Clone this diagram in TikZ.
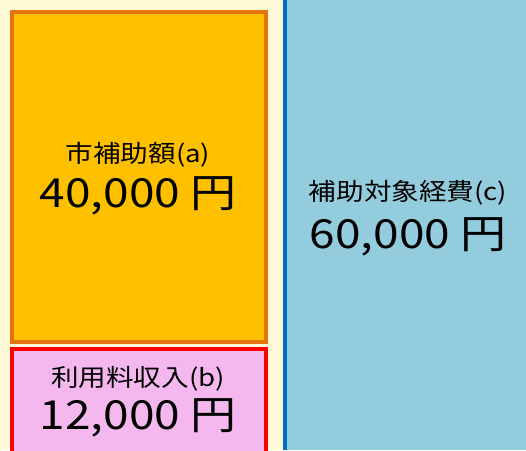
\documentclass[tikz,border=0pt]{standalone}
\usepackage{fontspec}
\setmainfont{Noto Sans CJK JP}[FakeStretch=1.15]
\definecolor{creambg}{HTML}{FEF9D6}
\definecolor{orgfill}{HTML}{FFC000}
\definecolor{orgline}{HTML}{E5740E}
\definecolor{pinkfill}{HTML}{F4B8EF}
\definecolor{redline}{HTML}{FF0000}
\definecolor{blueline}{HTML}{0070C0}
\definecolor{bluefill}{HTML}{93CDDD}
\tikzset{
  lbl/.style={font=\fontsize{24}{28}\selectfont, inner sep=0pt, anchor=center},
  amt/.style={font=\fontsize{40}{44}\selectfont, inner sep=0pt, anchor=center},
  blk/.style={line width=4pt}
}
\begin{document}
\begin{tikzpicture}[x=1pt,y=-1pt]
\useasboundingbox (0,0) rectangle (526,450);
\fill[creambg] (0,0) rectangle (285,450);
\fill[bluefill] (285,0) rectangle (526,450);
\draw[blueline, line width=4pt] (285,0) -- (285,450);
\draw[blk, orgline, fill=orgfill] (12,12) rectangle (266,342) node[pos=0.5] (a) {};
\draw[blk, redline, fill=pinkfill] (12,349) rectangle (266,460) node[pos=0.5] (b) {};
\node[lbl] (ta) at (138,155) {市補助額(a)};
\node[amt] (na) at (138,196) {40,000 円};
\node[lbl] (tb) at (138,379) {利用料収入(b)};
\node[amt] (nb) at (138,418) {12,000 円};
\node[lbl] (tc) at (408,193) {補助対象経費(c)};
\node[amt] (nc) at (408,237) {60,000 円};
\end{tikzpicture}
\end{document}
